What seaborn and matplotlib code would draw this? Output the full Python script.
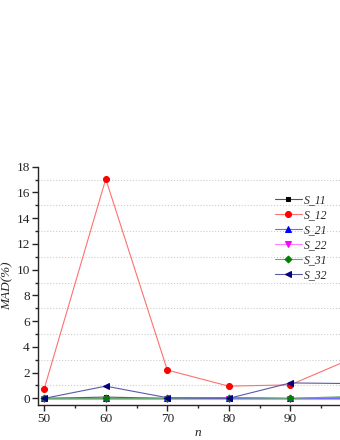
import numpy as np
import pandas as pd
import matplotlib
matplotlib.use("Agg")
import matplotlib.pyplot as plt
import seaborn as sns
from matplotlib.ticker import MultipleLocator, FixedLocator

# values
n = [50, 60, 70, 80, 90, 100]
s11 = [0.0, 0.1, 0.0, 0.05, 0.0, 0.05]
s12 = [0.75, 17.05, 2.2, 0.95, 1.05, 3.1]
s21 = [0.0, 0.0, 0.0, 0.0, 0.0, 0.0]
s22 = [-0.02, -0.02, -0.02, -0.02, -0.02, -0.02]
s31 = [0.0, 0.0, 0.0, 0.05, 0.0, 0.15]
s32 = [0.0, 0.95, 0.05, 0.0, 1.2, 1.15]

labels = ["S_11", "S_12", "S_21", "S_22", "S_31", "S_32"]
series = [s11, s12, s21, s22, s31, s32]
colors = ["black", "red", "blue", "magenta", "green", "navy"]
lines = ["#555555", "#ff7070", "#6a6aff", "#ff80ff", "#6aaa6a", "#5a5aa8"]
marks = ["s", "o", "^", "v", "D", "<"]
msize = [3.5, 4.3, 4.3, 4.3, 3.5, 4.3]

sns.set_style("ticks")
plt.rcParams["font.family"] = ["Liberation Serif", "DejaVu Serif"]
fs = 9.5

fig = plt.figure(figsize=(3.4, 4.4), dpi=100)
ax = fig.add_axes([0.112, 0.08, 0.941, 0.541])

for lab, vals, c, lc, m, ms in zip(labels, series, colors, lines, marks, msize):
    sns.lineplot(x=n, y=vals, ax=ax, color=lc, marker=m, markersize=ms,
                 markerfacecolor=c, markeredgecolor=c, linewidth=0.8, label=lab)

ax.set_xlim(49, 101)
ax.set_ylim(-0.5, 18)
ax.xaxis.set_major_locator(FixedLocator([50, 60, 70, 80, 90]))
ax.xaxis.set_minor_locator(FixedLocator([55, 65, 75, 85, 95]))
ax.yaxis.set_major_locator(MultipleLocator(2))
ax.yaxis.set_minor_locator(FixedLocator([1, 3, 5, 7, 9, 11, 13, 15, 17]))
ax.tick_params(which="major", direction="out", length=4, width=1, labelsize=fs, pad=2)
ax.tick_params(which="minor", direction="out", length=2.5, width=1)
ax.grid(True, which="minor", axis="y", color="#cccccc", linestyle=":", linewidth=0.8)
ax.grid(False, which="major")
for s in ["top", "right"]:
    ax.spines[s].set_visible(False)
for s in ["left", "bottom"]:
    ax.spines[s].set_linewidth(1)
ax.spines["left"].set_bounds(-0.5, 18)

ax.set_xlabel("n", fontstyle="italic", fontsize=fs, labelpad=1)
ax.set_ylabel("MAD(%)", fontstyle="italic", fontsize=fs, labelpad=2)

leg = ax.legend(loc="upper left", bbox_to_anchor=(0.725, 0.905), frameon=False,
                prop={"style": "italic", "size": 8.5}, handlelength=2.3,
                handletextpad=0.2, labelspacing=0.25, borderaxespad=0)

fig.savefig("out.png", dpi=100)
